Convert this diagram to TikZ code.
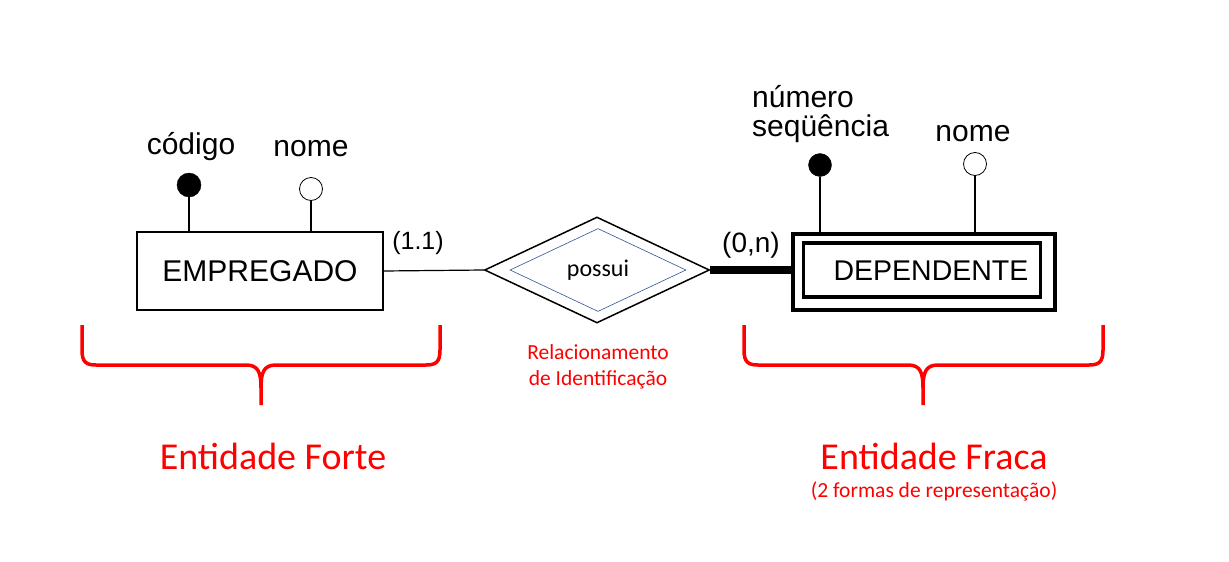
\documentclass[tikz,border=0pt]{standalone}
\usepackage{fontspec}
\setmainfont{Carlito}
\newfontfamily\hand{Liberation Sans}
\usetikzlibrary{shapes.geometric}
\definecolor{myred}{RGB}{255,0,0}
\definecolor{myblue}{RGB}{47,85,151}
\begin{document}
\begin{tikzpicture}[x=1pt,y=-1pt,
  ent/.style={draw, line width=1.3pt, minimum width=246pt, minimum height=78pt, inner sep=0pt, font=\hand\fontsize{30}{32}\selectfont},
  keyattr/.style={circle, fill=black, draw=black, minimum size=24pt, inner sep=0pt},
  attr/.style={circle, fill=white, draw=black, line width=0.8pt, minimum size=23pt, inner sep=0pt},
  attrlbl/.style={font=\hand\fontsize{30}{32}\selectfont, inner sep=0pt},
  card/.style={font=\hand\fontsize{25}{27}\selectfont, inner sep=0pt},
  brace/.style={draw=myred, line width=3.5pt},
  redlbl/.style={text=myred, inner sep=0pt, align=center}
]
\useasboundingbox (0,0) rectangle (1229,562);
\fill[white] (0,0) rectangle (1229,562);

% strong entity
\node[ent] (emp) at (260,271) {EMPREGADO};
\node[keyattr] (cod) at (189,185) {};
\node[attr] (nom1) at (311,189) {};
\node[attrlbl] (codl) at (191,147) {código};
\node[attrlbl] (noml1) at (311,149) {nome};
\draw[line width=1.2pt] (cod.south) -- (cod.south |- emp.north);
\draw[line width=1.2pt] (nom1.south) -- (nom1.south |- emp.north);
\node[card] (c11) at (418,243) {(1.1)};

% relationship
\node[diamond, draw, line width=1.5pt, minimum width=225pt, minimum height=106pt, inner sep=0pt] (rel) at (597,270) {};
\node[diamond, draw=myblue, line width=0.6pt, minimum width=176pt, minimum height=83pt, inner sep=0pt, font=\fontsize{24}{26}\selectfont] (reli) at (598,270) {possui};
\node[redlbl, font=\fontsize{21.5}{26}\selectfont] (rellbl) at (598,367) {Relacionamento\\de Identificação};

\draw[line width=1.2pt] (emp.east) -- (rel.west);

% weak entity
\node[draw, line width=3.8pt, minimum width=262pt, minimum height=76pt, inner sep=0pt] (depo) at (924,272) {};
\node[draw, line width=3.8pt, minimum width=237pt, minimum height=54pt, inner sep=0pt] (dep) at (922,270) {};
\node[font=\hand\fontsize{28.5}{30}\selectfont, inner sep=0pt] (deptxt) at (931,271) {DEPENDENTE};
\draw[line width=8pt] (rel.east) -- (depo.west |- rel.east);
\node[card, font=\hand\fontsize{28}{30}\selectfont] (c0n) at (751,245) {(0,n)};

\node[keyattr, minimum size=23pt] (num) at (820,165) {};
\node[attr] (nom2) at (975,164) {};
\node[attrlbl, anchor=west] (numl) at (752,97) {número};
\node[attrlbl, anchor=west] (seql) at (752,129) {seqüência};
\node[attrlbl] (noml2) at (973,134) {nome};
\draw[line width=1.2pt] (num.south) -- (num.south |- depo.north);
\draw[line width=1.2pt] (nom2.south) -- (nom2.south |- depo.north);

% braces
\draw[brace] (82,325) -- (82,350) .. controls (82,362) and (86,365) .. (96,365)
  -- (246,365) .. controls (258,365) and (261,372) .. (261,388) -- (261,405);
\draw[brace] (440,325) -- (440,350) .. controls (440,362) and (436,365) .. (426,365)
  -- (276,365) .. controls (264,365) and (261,372) .. (261,388);
\draw[brace] (744,325) -- (744,350) .. controls (744,362) and (748,365) .. (758,365)
  -- (908,365) .. controls (920,365) and (923,372) .. (923,388) -- (923,405);
\draw[brace] (1103,325) -- (1103,350) .. controls (1103,362) and (1099,365) .. (1089,365)
  -- (938,365) .. controls (926,365) and (923,372) .. (923,388);

\node[redlbl, font=\fontsize{38}{40}\selectfont] (forte) at (273,456) {Entidade Forte};
\node[redlbl, font=\fontsize{38}{40}\selectfont] (fraca) at (934,456) {Entidade Fraca};
\node[redlbl, font=\fontsize{21.5}{24}\selectfont] (formas) at (934,491) {(2 formas de representação)};
\end{tikzpicture}
\end{document}
